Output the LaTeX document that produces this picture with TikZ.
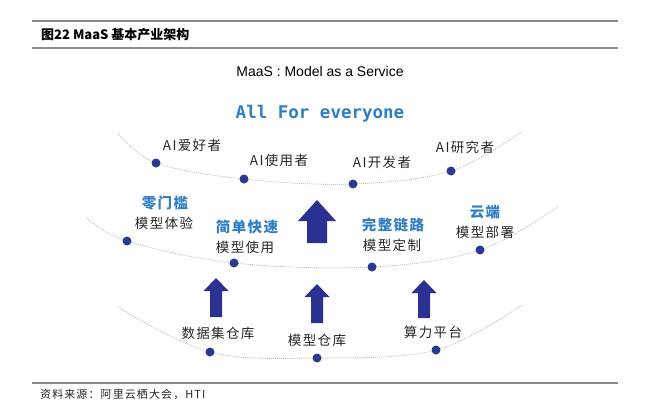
\documentclass[tikz,border=0pt]{standalone}
\usepackage{fontspec}
\setmainfont{Liberation Sans}
\newfontfamily\cjk{Noto Sans CJK SC}
\newfontfamily\cjksp[LetterSpace=10]{Noto Sans CJK SC}
\newfontfamily\monofont{DejaVu Sans Mono}
\definecolor{navy}{HTML}{2B3190}
\definecolor{dotc}{HTML}{2C3A8E}
\definecolor{skyb}{HTML}{2F7EC4}
\definecolor{rulec}{HTML}{8A8A8A}
\newcommand\uparr[6]{%
  \fill[navy] (#1,#2) -- (#1+#4,#2+#6) -- (#1+#5,#2+#6) -- (#1+#5,#3)
    -- (#1-#5,#3) -- (#1-#5,#2+#6) -- (#1-#4,#2+#6) -- cycle;}
\begin{document}
\begin{tikzpicture}[x=1pt,y=-1pt,
  dot/.style={circle,fill=dotc,inner sep=0pt,minimum size=9pt},
  lbl/.style={font=\cjksp\fontsize{13.5}{15}\selectfont,text=black!85,inner sep=0pt},
  hdl/.style={font=\cjksp\bfseries\fontsize{14.5}{16}\selectfont,text=skyb,inner sep=0pt},
  arcline/.style={draw=gray!65,line width=0.6pt,dash pattern=on 1pt off 1pt},
  rule/.style={draw=rulec,line width=1.1pt}]
\useasboundingbox (0,0) rectangle (645,417);
% rules
\draw[rule] (32,21) -- (618,21);
\draw[rule] (32,48) -- (618,48);
\draw[rule] (32,383) -- (618,383);
\node[anchor=west,inner sep=0pt,font=\cjk\bfseries\fontsize{13}{15}\selectfont] (title) at (41,35) {图22 MaaS 基本产业架构};
\node[anchor=west,inner sep=0pt,font=\cjksp\fontsize{11}{12}\selectfont,text=black!85] (src) at (40,394) {资料来源：阿里云栖大会，HTI};
\node[inner sep=0pt,font=\fontsize{14}{16}\selectfont] (maas) at (320,71) {MaaS : Model as a Service};
\node[inner sep=0pt,font=\monofont\bfseries\fontsize{17.5}{19}\selectfont,text=skyb] (all) at (320,114) {All For everyone};
% top arc
\coordinate (tL) at (118,133);
\coordinate (tR) at (521,132);
\coordinate (u1) at (156,163);
\coordinate (u2) at (244,179);
\coordinate (u3) at (353,184);
\coordinate (u4) at (451,171);
\draw[arcline] plot[smooth,tension=0.6] coordinates {(tL) (u1) (u2) (u3) (u4) (tR)};
\node[lbl] (l1) at (192,145) {AI爱好者};
\node[lbl] (l2) at (279,160) {AI使用者};
\node[lbl] (l3) at (382,162) {AI开发者};
\node[lbl] (l4) at (465,147) {AI研究者};
% middle arc
\coordinate (mL) at (87,218);
\coordinate (mR) at (559,206);
\coordinate (m1) at (127,241);
\coordinate (m2) at (234,263);
\coordinate (m3) at (372,267);
\coordinate (m4) at (480,250);
\draw[arcline] plot[smooth,tension=0.6] coordinates {(mL) (m1) (m2) (m3) (m4) (mR)};
\node[hdl] (h1) at (165,203) {零门槛};
\node[lbl] (s1) at (164,223) {模型体验};
\node[hdl] (h2) at (247,227) {简单快速};
\node[lbl] (s2) at (245,247) {模型使用};
\node[hdl] (h3) at (393,225) {完整链路};
\node[lbl] (s3) at (392,245) {模型定制};
\node[hdl] (h4) at (485,212) {云端};
\node[lbl] (s4) at (485,232) {模型部署};
% bottom arc
\coordinate (bL) at (118,307);
\coordinate (bR) at (522,305);
\coordinate (b1) at (210,352);
\coordinate (b2) at (317,358);
\coordinate (b3) at (436,350);
\draw[arcline] plot[smooth,tension=0.6] coordinates {(bL) (b1) (b2) (b3) (bR)};
\foreach \n in {u1,u2,u3,u4,m1,m2,m3,m4,b1,b2,b3} \node[dot] (d\n) at (\n) {};
\node[lbl] (c1) at (218,333) {数据集仓库};
\node[lbl] (c2) at (317,340) {模型仓库};
\node[lbl] (c3) at (433,332) {算力平台};
% arrows
\uparr{317}{200}{243}{19}{10}{21}
\uparr{216}{278}{317}{12.5}{6}{13}
\uparr{317}{284}{323}{12.5}{6}{13}
\uparr{424}{280}{318}{12.5}{6}{13}
\end{tikzpicture}
\end{document}
